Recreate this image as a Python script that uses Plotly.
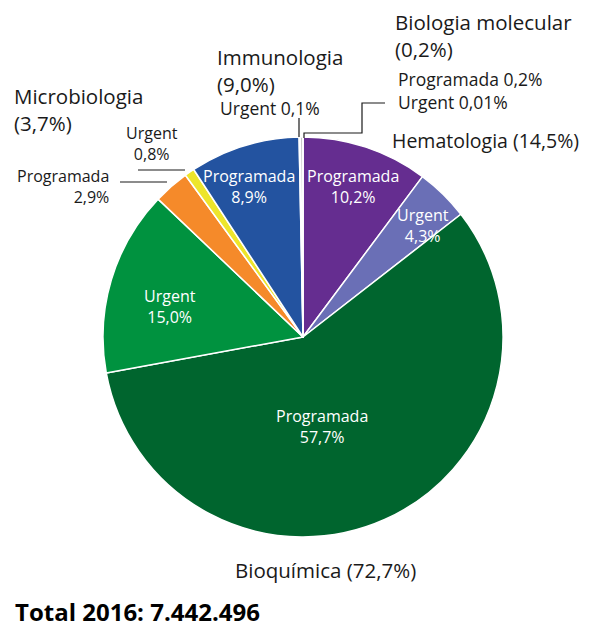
import plotly.graph_objects as go

W, H = 591, 627
OFF = 8  # page body margin

# ---- data ----
groups = ["Hematologia", "Hematologia", "Bioquímica", "Bioquímica",
          "Microbiologia", "Microbiologia", "Immunologia", "Immunologia",
          "Biologia molecular", "Biologia molecular"]
types = ["Programada", "Urgent", "Programada", "Urgent",
         "Programada", "Urgent", "Programada", "Urgent",
         "Programada", "Urgent"]
shares = [10.2, 4.3, 57.7, 15.0, 2.9, 0.8, 8.9, 0.1, 0.2, 0.01]
group_names = ["Hematologia", "Bioquímica", "Microbiologia", "Immunologia", "Biologia molecular"]
group_shares = [14.5, 72.7, 3.7, 9.0, 0.2]
total_label = "Total 2016: 7.442.496"

colors = ["#652d90", "#6a6fb6", "#00652e", "#00923f",
          "#f58a2a", "#ede52b", "#2353a0", "#7f7f7f", "#bdbdbd", "#bdbdbd"]

def pct(v):
    s = ("%.2f" % v) if v < 0.1 else ("%.1f" % v)
    return s.replace(".", ",") + "%"

FONT = "Open Sans"
TXT = "#1a1a1a"

def px(x, y):
    return (x - OFF) / W, 1 - (y - OFF) / H

# pie geometry (pixels)
cx, cy, r = 303, 337, 200
x0, y1 = px(cx - r, cy - r)
x1, y0 = px(cx + r, cy + r)

fig = go.Figure(go.Pie(
    labels=[g + " " + t for g, t in zip(groups, types)],
    values=shares,
    sort=False,
    direction="clockwise",
    rotation=0,
    marker=dict(colors=colors, line=dict(color="white", width=1.5)),
    textinfo="none",
    hoverinfo="label+percent",
    domain=dict(x=[x0, x1], y=[y0, y1]),
    showlegend=False,
))

annotations = []

def add(text, x, y, size, xanchor="center", color=TXT, align=None, bold=False):
    ax, ay = px(x, y)
    if bold:
        text = "<b>" + text + "</b>"
    annotations.append(dict(
        text=text, x=ax, y=ay, xref="paper", yref="paper",
        xanchor=xanchor, yanchor="middle", showarrow=False,
        align=align or ("left" if xanchor == "left" else "right" if xanchor == "right" else "center"),
        font=dict(family=FONT, size=size, color=color)))

def slice_label(i):
    return types[i] + "<br>" + pct(shares[i])

# inside labels
add(slice_label(0), 353, 186, 16, color="white")
add(slice_label(1), 423, 225, 16, color="white")
add(slice_label(2), 322, 426, 16, color="white")
add(slice_label(3), 170, 306, 16, color="white")
add(slice_label(6), 249, 186, 16, color="white")

# outside small labels
add(types[5] + "<br>" + pct(shares[5]), 152, 143, 16)
add(types[4] + "<br>" + pct(shares[4]), 111, 186, 16, xanchor="right")
add(types[7] + " " + pct(shares[7]), 218, 108, 17.5, xanchor="left")
add(types[8] + " " + pct(shares[8]) + "<br>" + types[9] + " " + pct(shares[9]), 396, 91, 17.5, xanchor="left")

# group labels
def glabel(k, br=True):
    return group_names[k] + ("<br>" if br else " ") + "(" + pct(group_shares[k]) + ")"

add(glabel(0, False), 390, 140, 19.5, xanchor="left")
add(glabel(1, False), 233, 570, 20.5, xanchor="left")
add(glabel(2), 12, 110, 20.5, xanchor="left")
add(glabel(3), 215, 71, 20.5, xanchor="left")
add(glabel(4), 393, 35, 20.5, xanchor="left")

add(total_label, 13, 611, 24, xanchor="left", color="#000000", bold=True)

# leader lines (pixel polylines)
lines = [
    [(138, 170), (185, 170)],
    [(120, 182), (167, 182)],
    [(299, 118), (299, 137)],
    [(385, 103), (362, 103), (362, 133), (304, 133), (304, 138)],
]
shapes = []
for pts in lines:
    path = "M " + " L ".join("%f,%f" % px(x, y) for x, y in pts)
    shapes.append(dict(type="path", path=path, xref="paper", yref="paper",
                       line=dict(color="#1a1a1a", width=1.2)))

fig.update_layout(
    width=W, height=H,
    margin=dict(l=0, r=0, t=0, b=0),
    paper_bgcolor="white", plot_bgcolor="white",
    annotations=annotations, shapes=shapes,
    font=dict(family=FONT),
)

fig.write_html("out.html")
